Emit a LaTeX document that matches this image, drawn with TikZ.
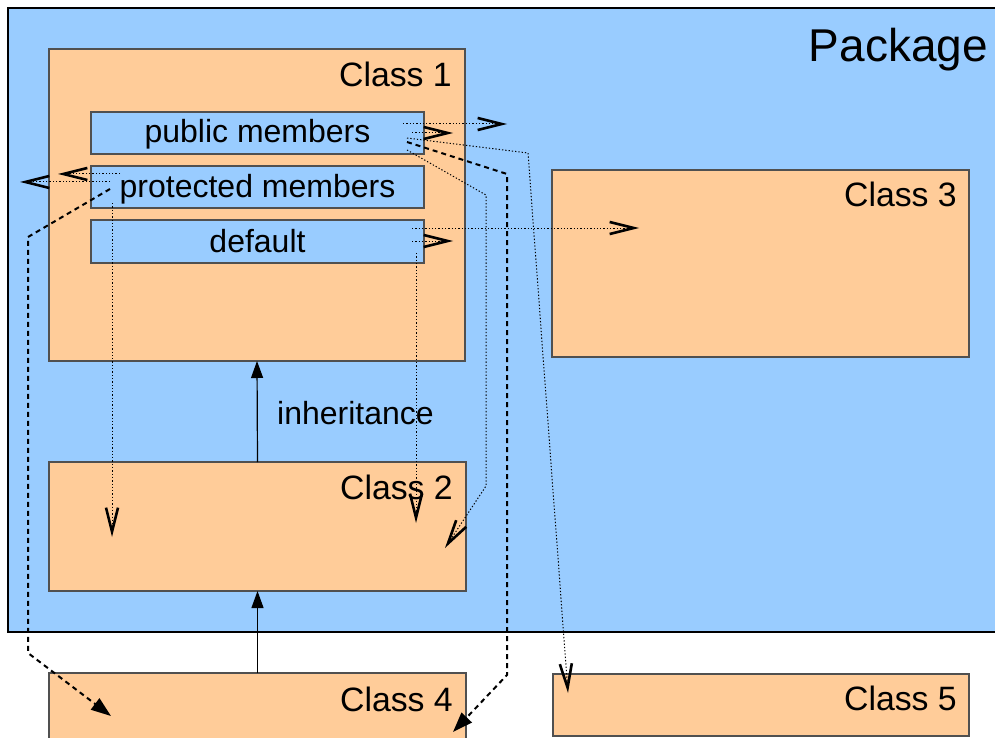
\documentclass[tikz,border=0pt]{standalone}
\usepackage{fontspec}
\setmainfont{Liberation Sans}
\usetikzlibrary{arrows.meta}
\definecolor{pkgblue}{HTML}{99CCFF}
\definecolor{clsorange}{HTML}{FFCC99}
\definecolor{boxedge}{HTML}{505050}

\begin{document}
\begin{tikzpicture}[x=1pt,y=-1pt,
  box/.style={draw=boxedge, line width=1.2pt, inner sep=0pt, outer sep=0pt},
  classbox/.style={box, fill=clsorange},
  memberbox/.style={box, fill=pkgblue},
  lbl/.style={inner sep=0pt, font=\fontsize{32}{38}\selectfont},
  clbl/.style={inner sep=0pt, anchor=base east, font=\fontsize{33.8}{40}\selectfont},
  reach/.style={line width=1pt, draw=black, dash pattern=on 1.3pt off 2pt},
  heavy/.style={line width=2pt, dash pattern=on 5pt off 4pt},
  openhead/.style={-{Straight Barb[length=24pt,width=12pt,line width=2.6pt 0]}},
  solidhead/.style={-{Triangle[length=20pt,width=14pt]}},
  inherit/.style={line width=1.2pt, -{Triangle[length=17pt,width=12pt]}}
]
\useasboundingbox (0,0) rectangle (995,738);
\clip (0,0) rectangle (995,738);
\fill[white] (0,0) rectangle (995,738);

% package area
\node[draw=black, line width=1.2pt, fill=pkgblue, inner sep=0pt,
      minimum width=992pt, minimum height=624pt] (pkg) at (504,320) {};
\node[inner sep=0pt, anchor=base east, font=\fontsize{46}{54}\selectfont]
  (pkglbl) at (988,62) {Package};

% classes
\node[classbox, minimum width=416pt, minimum height=312pt] (c1) at (257,205) {};
\node[classbox, minimum width=417pt, minimum height=129pt] (c2) at (257.5,526.5) {};
\node[classbox, minimum width=417pt, minimum height=187pt] (c3) at (760.5,263.5) {};
\node[classbox, minimum width=417pt, minimum height=87pt]  (c4) at (257.5,716.5) {};
\node[classbox, minimum width=416pt, minimum height=62pt]  (c5) at (761,705) {};

% members of class 1
\node[memberbox, minimum width=333pt, minimum height=42pt] (pub)  at (257.5,133) {};
\node[memberbox, minimum width=333pt, minimum height=42pt] (prot) at (257.5,187) {};
\node[memberbox, minimum width=333pt, minimum height=43pt] (def)  at (257.5,241.5) {};

% labels
\node[clbl] (l1) at (452,87)  {Class 1};
\node[clbl] (l2) at (453,499) {Class 2};
\node[clbl] (l3) at (957,207) {Class 3};
\node[clbl] (l4) at (453,711) {Class 4};
\node[clbl] (l5) at (957,710) {Class 5};
\node[lbl, anchor=base] (lpub)  at (257.5,143) {public members};
\node[lbl, anchor=base] (lprot) at (257.5,197) {protected members};
\node[lbl, anchor=base] (ldef)  at (257.5,252) {default};
\node[lbl, anchor=base west] (linh) at (277,424) {inheritance};

% inheritance
\draw[inherit] (c2.north) -- (c1.south);
\draw[inherit] (c4.north) -- (c2.south);

% end points and bends of the access paths
\coordinate (a1s) at (403,124);  \coordinate (a1e) at (507,124);
\coordinate (a2s) at (412,133);  \coordinate (a2e) at (453,133);
\coordinate (a3s) at (407,138);  \coordinate (b3)  at (528,153);
\coordinate (a3e) at (568,693);
\coordinate (a4s) at (407,142);  \coordinate (b4a) at (507,174);
\coordinate (b4b) at (507,675);  \coordinate (a4e) at (453,732);
\coordinate (a5s) at (407,150);  \coordinate (b5a) at (486,195);
\coordinate (b5b) at (486,486);  \coordinate (a5e) at (445,548);
\coordinate (a6s) at (120,174);  \coordinate (a6e) at (58,174);
\coordinate (a7s) at (110,182);  \coordinate (a7e) at (20,182);
\coordinate (a8s) at (110,189);  \coordinate (b8a) at (28,237);
\coordinate (b8b) at (28,653);   \coordinate (a8e) at (111,716);
\coordinate (a9s) at (112,203);  \coordinate (a9e) at (112,537);
\coordinate (a10s) at (412,228); \coordinate (a10e) at (639,228);
\coordinate (a11s) at (412,241); \coordinate (a11e) at (453,241);
\coordinate (a12s) at (416,253); \coordinate (a12e) at (416,523);

% public members
\draw[reach, openhead] (a1s) -- (a1e);
\draw[reach, openhead] (a2s) -- (a2e);
\draw[reach, openhead] (a3s) -- (b3) -- (a3e);
\draw[heavy, solidhead] (a4s) -- (b4a) -- (b4b) -- (a4e);
\draw[reach, openhead] (a5s) -- (b5a) -- (b5b) -- (a5e);
% protected members
\draw[reach, openhead] (a6s) -- (a6e);
\draw[reach, openhead] (a7s) -- (a7e);
\draw[heavy, solidhead] (a8s) -- (b8a) -- (b8b) -- (a8e);
\draw[reach, openhead] (a9s) -- (a9e);
% default
\draw[reach, openhead] (a10s) -- (a10e);
\draw[reach, openhead] (a11s) -- (a11e);
\draw[reach, openhead] (a12s) -- (a12e);
\end{tikzpicture}
\end{document}
